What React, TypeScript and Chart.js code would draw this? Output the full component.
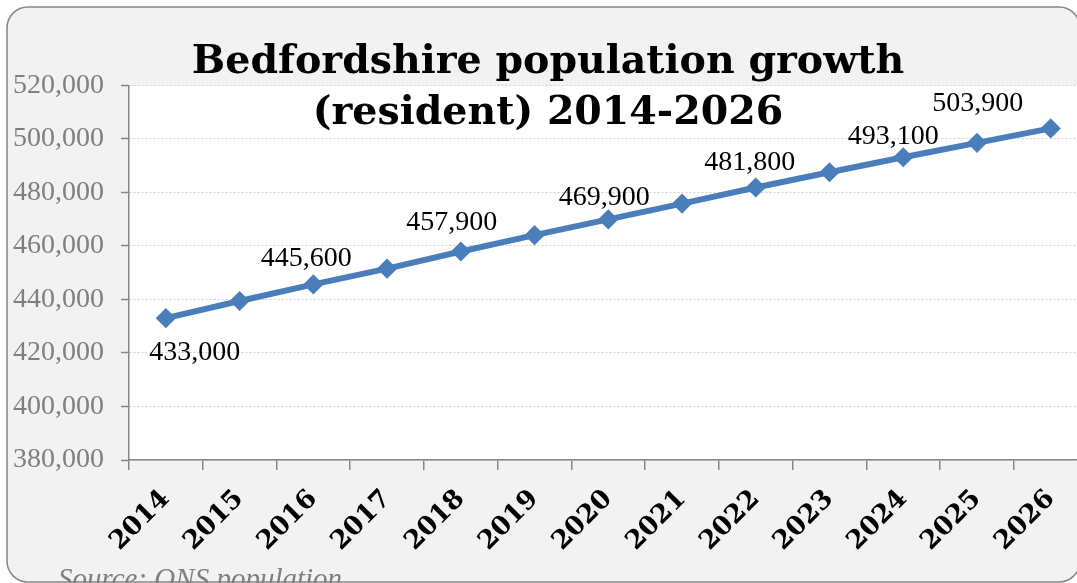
import React, { useEffect, useRef } from "react";
import { Chart, registerables } from "chart.js";

Chart.register(...registerables);

// ---- data ----
const years = ["2014", "2015", "2016", "2017", "2018", "2019", "2020", "2021", "2022", "2023", "2024", "2025", "2026"];
const population = [433000, 439400, 445600, 451500, 457900, 464000, 469900, 475800, 481800, 487500, 493100, 498500, 503900];
const yMin = 380000;
const yMax = 520000;
const yStep = 20000;
const titleLines = ["Bedfordshire population growth", "(resident) 2014-2026"];
const sourceText = "Source: ONS population";

// label placement (pixel offsets from each point), null = no label
const labelOffsets: ([number, number] | null)[] = [
  [29, 34], null, [-7, -26], null, [-9, -29], null, [-4, -22], null, [-6, -25], null, [-10, -21], null, [-73, -25],
];

const CW = 1100;
const CH = 600;
const GRAY = "#868686";
const LINE = "#4a7ebb";
const fmt = (v: number) => v.toLocaleString("en-US");

const backgroundPlugin = {
  id: "bgbox",
  beforeDraw(chart: any) {
    const { ctx, chartArea } = chart;
    ctx.save();
    const x0 = 7, y0 = 7, x1 = 1080, y1 = 582, r = 21;
    ctx.beginPath();
    ctx.moveTo(x0 + r, y0);
    ctx.lineTo(x1 - r, y0);
    ctx.arcTo(x1, y0, x1, y0 + r, r);
    ctx.lineTo(x1, y1 - r);
    ctx.arcTo(x1, y1, x1 - r, y1, r);
    ctx.lineTo(x0 + r, y1);
    ctx.arcTo(x0, y1, x0, y1 - r, r);
    ctx.lineTo(x0, y0 + r);
    ctx.arcTo(x0, y0, x0 + r, y0, r);
    ctx.closePath();
    ctx.fillStyle = "#f2f2f2";
    ctx.fill();
    ctx.lineWidth = 1.5;
    ctx.strokeStyle = GRAY;
    ctx.stroke();
    ctx.fillStyle = "#ffffff";
    ctx.fillRect(chartArea.left, chartArea.top, chartArea.right - chartArea.left, chartArea.bottom - chartArea.top);
    ctx.restore();
  },
};

const overlayPlugin = {
  id: "overlay",
  afterDraw(chart: any) {
    const { ctx } = chart;
    const meta = chart.getDatasetMeta(0);
    ctx.save();
    // data labels
    ctx.font = "28px 'Liberation Serif'";
    ctx.fillStyle = "#000000";
    ctx.textAlign = "center";
    ctx.textBaseline = "middle";
    meta.data.forEach((pt: any, i: number) => {
      const off = labelOffsets[i];
      if (!off) return;
      ctx.fillText(fmt(population[i]), pt.x + off[0], pt.y + off[1]);
    });
    // title
    ctx.font = "bold 39.5px 'DejaVu Serif'";
    ctx.textBaseline = "alphabetic";
    ctx.fillText(titleLines[0], 548, 73);
    ctx.fillText(titleLines[1], 548, 124);
    // source
    ctx.font = "italic 29px 'Liberation Serif'";
    ctx.fillStyle = "#7f7f7f";
    ctx.textAlign = "left";
    ctx.fillText(sourceText, 58, 588);
    ctx.restore();
  },
};

export default function App() {
  const ref = useRef<HTMLCanvasElement | null>(null);
  useEffect(() => {
    if (!ref.current) return;
    const chart = new Chart(ref.current, {
      type: "line",
      data: {
        labels: years,
        datasets: [
          {
            data: population,
            borderColor: LINE,
            backgroundColor: LINE,
            borderWidth: 6,
            pointStyle: "rectRot",
            pointRadius: 9,
            pointBackgroundColor: LINE,
            pointBorderColor: LINE,
            pointBorderWidth: 1.5,
            tension: 0,
          },
        ],
      },
      options: {
        responsive: false,
        animation: false,
        devicePixelRatio: 1,
        layout: { padding: { top: 85.3, right: CW - 1087.6, bottom: 0, left: 0 } },
        plugins: { legend: { display: false }, title: { display: false }, tooltip: { enabled: false } },
        scales: {
          x: {
            type: "category",
            offset: true,
            afterFit(scale: any) {
              scale.height = CH - 460;
            },
            grid: {
              offset: true,
              drawOnChartArea: false,
              drawTicks: true,
              tickLength: 10,
              color: GRAY,
              lineWidth: 1.5,
            },
            border: { color: GRAY, width: 1.5 },
            ticks: {
              autoSkip: false,
              maxRotation: 45,
              minRotation: 45,
              padding: 14,
              color: "#000000",
              font: { family: "'DejaVu Serif'", size: 26, weight: "bold" },
            },
          },
          y: {
            min: yMin,
            max: yMax,
            afterFit(scale: any) {
              scale.width = 129;
            },
            ticks: {
              stepSize: yStep,
              padding: 17,
              color: "#7f7f7f",
              font: { family: "'Liberation Serif'", size: 28 },
              callback: (v: any) => fmt(Number(v)),
            },
            grid: {
              color: "#cfcfcf",
              lineWidth: 1,
              tickColor: GRAY,
              tickWidth: 1.5,
              tickLength: 8,
              tickBorderDash: [],
            },
            border: { color: GRAY, width: 1.5, dash: [2, 2] },
          },
        },
      },
      plugins: [backgroundPlugin, overlayPlugin],
    } as any);
    return () => chart.destroy();
  }, []);

  return (
    <div style={{ position: "fixed", left: 0, top: 0, width: 1077, height: 583, overflow: "hidden", background: "#ffffff" }}>
      <canvas ref={ref} width={CW} height={CH} style={{ display: "block", width: CW, height: CH }} />
    </div>
  );
}
